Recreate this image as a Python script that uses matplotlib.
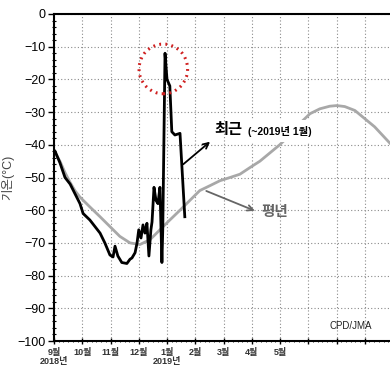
import matplotlib.pyplot as plt
from matplotlib.patches import Ellipse

plt.rcParams['font.family'] = ['Liberation Sans', 'Noto Sans CJK KR', 'DejaVu Sans']

# x is months since 1 Sep 2018
recent_x = [0.0, 0.04, 0.21, 0.39, 0.57, 0.92, 1.03, 1.27, 1.63, 1.80, 1.98, 2.09,
            2.16, 2.26, 2.40, 2.58, 2.69, 2.76, 2.87, 2.94, 3.00, 3.08, 3.15, 3.22,
            3.29, 3.36, 3.43, 3.47, 3.54, 3.61, 3.68, 3.75, 3.82, 3.85, 3.93, 4.00,
            4.10, 4.17, 4.28, 4.46, 4.63]
recent_y = [-41.6, -42, -45.5, -50, -52, -58, -61, -63, -67, -70, -73.7, -74.3,
            -71, -74, -76, -76.3, -75, -74.6, -73, -70, -66, -68.5, -64.5, -67,
            -64, -74, -66, -63.6, -53, -57, -58, -53, -76, -66, -12, -20,
            -22, -36, -37, -36.5, -62]

normal_x = [0.0, 0.21, 0.39, 0.57, 0.74, 0.92, 1.27, 1.63, 1.98, 2.33, 2.69, 3.04,
            3.40, 3.75, 4.10, 4.46, 4.81, 5.16, 5.52, 5.87, 6.23, 6.58, 6.93, 7.29,
            7.64, 7.99, 8.35, 8.70, 9.06, 9.41, 9.76, 10.01, 10.29, 10.65, 10.93,
            11.35, 11.89]
normal_y = [-42, -45, -48.5, -51.5, -54, -56, -59, -62, -65, -68, -70, -70.5,
            -69, -66, -63, -60, -57, -54, -52.5, -51, -50, -49, -47, -45,
            -42.5, -40, -37, -33.5, -30.5, -29, -28.2, -28, -28.3, -29.5, -31.5,
            -34.5, -39.5]

month_labels = ['9월\n2018년', '10월', '11월', '12월', '1월\n2019년', '2월', '3월', '4월', '5월',
                '', '', '', '']

fig = plt.figure(figsize=(3.9, 3.66), dpi=100)
ax = fig.add_axes([54 / 390, 25 / 366, 339 / 390, 327 / 366])

ax.plot(normal_x, normal_y, color='#a8a8a8', lw=2, zorder=2)
ax.plot(recent_x, recent_y, color='black', lw=2, zorder=3)

ax.set_xlim(0, 12)
ax.set_ylim(-100, 0)
ax.set_yticks(range(-100, 1, 10))
ax.set_yticklabels([str(v).replace('-', '\u2212') for v in range(-100, 1, 10)], fontsize=9)
ax.set_yticks(range(-100, 1, 2), minor=True)
ax.set_xticks(range(13))
ax.set_xticklabels(month_labels, fontsize=6.5, fontweight='bold', color='#333333',
                   linespacing=0.95)
ax.set_xticks([m + k / 6 for m in range(12) for k in range(1, 6)], minor=True)
ax.tick_params(axis='y', which='major', direction='out', length=4, width=1, pad=2)
ax.tick_params(axis='y', which='minor', direction='inout', length=3, width=0.8)
ax.tick_params(axis='x', which='major', direction='inout', length=4, width=1, pad=3)
ax.tick_params(axis='x', which='minor', direction='inout', length=2, width=0.6)

ax.grid(True, which='major', color='#8a8a8a', lw=0.8, linestyle=(0, (1, 2)))
for side in ['top', 'left', 'bottom']:
    ax.spines[side].set_linewidth(1.5)
ax.spines['right'].set_visible(False)

ax.set_ylabel('기온(°C)', fontsize=9, color='#444444', labelpad=2)

# red dotted circle around the peak
ax.add_patch(Ellipse((3.87, -16.8), 1.72, 15.2, fill=False, edgecolor='#d02020',
                     lw=2.2, linestyle=(0, (0.6, 1.4)), zorder=4))

# annotations
ax.annotate('', xy=(5.6, -38.5), xytext=(4.5, -46.5),
            arrowprops=dict(arrowstyle='->', color='black', lw=1.3))
ax.text(5.68, -35.5, '최근', fontsize=11, fontweight='bold', va='center', ha='left',
        zorder=5)
ax.text(6.85, -35.8, '(~2019년 1월)', fontsize=7.5, fontweight='bold', va='center',
        ha='left', bbox=dict(facecolor='white', edgecolor='none', pad=4), zorder=5)
ax.annotate('', xy=(7.2, -60.5), xytext=(5.3, -53.8),
            arrowprops=dict(arrowstyle='->', color='#666666', lw=1.3))
ax.text(7.35, -60.5, '평년', fontsize=10.5, fontweight='bold', color='#666666',
        va='center', ha='left')

ax.text(9.75, -95.5, 'CPD/JMA', fontsize=7, color='#222222', ha='left', va='center')

fig.savefig('out.png', dpi=100)
